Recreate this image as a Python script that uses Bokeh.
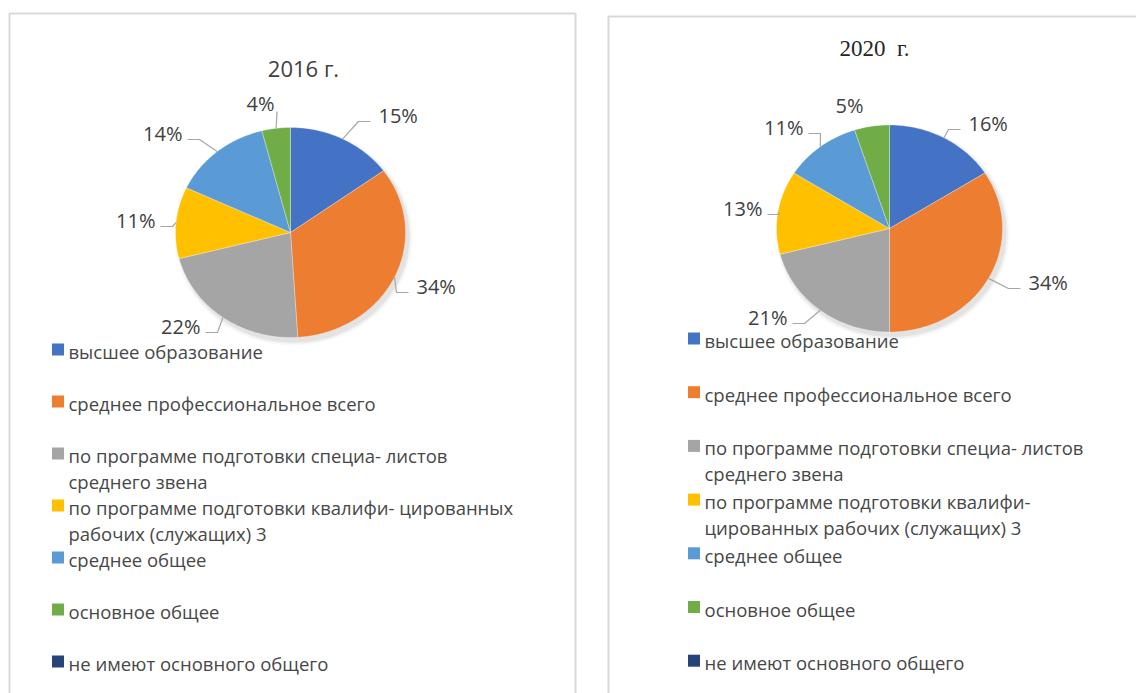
import textwrap
import numpy as np
from bokeh.plotting import figure
from bokeh.models import Range1d, ColumnDataSource
from bokeh.core.properties import value
from bokeh.embed import file_html
from bokeh.resources import INLINE

# ---------------- data ----------------
categories = [
    "высшее образование",
    "среднее профессиональное всего",
    "по программе подготовки специа- листов среднего звена",
    "по программе подготовки квалифи- цированных рабочих (служащих) 3",
    "среднее общее",
    "основное общее",
    "не имеют основного общего",
]
values_2016 = [15, 34, 22, 11, 14, 4, 0]
values_2020 = [16, 34, 21, 13, 11, 5, 0]
titles = ["2016 г.", "2020\u2002г."]
colors = ["#4472C4", "#ED7D31", "#A5A5A5", "#FFC000", "#5B9BD5", "#70AD47", "#264478"]

# ---------------- layout (screen px) ----------------
W, H = 1136, 693


def Y(sy):
    return H - sy


panels = [
    dict(vals=values_2016, title=titles[0], tx=303, ty=67, tfont="Open Sans", tsize="22px", tcol="#404040",
         cx=290, cy=232, rx=115, ry=105,
         lab_x=[378, 416, 200, 155, 182, 274], lab_y=[115, 286, 326, 220, 133, 103],
         lab_al=["left", "left", "right", "right", "right", "right"],
         lab_kind=["h", "h", "h", "h", "h", "v"],
         leg_x=51, leg_y=351, leg_step=52, wrap=44),
    dict(vals=values_2020, title=titles[1], tx=874, ty=48, tfont="Liberation Serif", tsize="23px", tcol="#262626",
         cx=889, cy=228, rx=113, ry=103.5,
         lab_x=[968, 1028, 787, 762, 803, 849], lab_y=[123, 282, 317, 208, 127, 105],
         lab_al=["left", "left", "right", "right", "right", "center"],
         lab_kind=["h", "h", "h", "h", "h", None],
         leg_x=687, leg_y=340, leg_step=53.7, wrap=38),
]

p = figure(width=W, height=H, output_backend="svg", toolbar_location=None,
           x_range=Range1d(0, W), y_range=Range1d(0, H),
           x_axis_type=None, y_axis_type=None, min_border=0)
p.grid.visible = False
p.outline_line_color = None
p.background_fill_color = "white"

# panel borders
p.multi_line(xs=[[9, 9, 575, 575], [608, 608, 1140]],
             ys=[[Y(700), Y(13), Y(13), Y(700)], [Y(700), Y(16), Y(16)]],
             line_color="#D9D9D9", line_width=2)

for pn in panels:
    vals = pn["vals"]
    cx, cyd, rx, ry = pn["cx"], Y(pn["cy"]), pn["rx"], pn["ry"]
    total = float(sum(vals))

    # soft shadow
    for k, a in [(8, 0.025), (5, 0.035), (2, 0.05)]:
        p.ellipse(x=[cx + 3], y=[cyd - 4], width=[2 * rx + k], height=[2 * ry + k],
                  fill_color="black", fill_alpha=a, line_color=None)

    xs, ys, cols, mids = [], [], [], []
    a0 = 0.0
    for v, c in zip(vals, colors):
        a1 = a0 + v / total * 2 * np.pi
        if v > 0:
            t = np.linspace(a0, a1, int(v * 4) + 3)
            xs.append([cx] + list(cx + rx * np.sin(t)))
            ys.append([cyd] + list(cyd + ry * np.cos(t)))
            cols.append(c)
            mids.append((a0 + a1) / 2)
        a0 = a1
    p.patches(xs=xs, ys=ys, fill_color=cols, line_color="white", line_width=0.6, line_alpha=0.5)

    # labels + leader lines
    texts = [f"{v}%" for v in vals if v > 0]
    lxs, lys = [], []
    for i, m in enumerate(mids):
        ex, ey = cx + rx * np.sin(m), cyd + ry * np.cos(m)
        kind = pn["lab_kind"][i]
        lx, ly = pn["lab_x"][i], Y(pn["lab_y"][i] + 6)
        if kind == "h":
            if pn["lab_al"][i] == "left":
                end = lx - 8
                elb = end - 12
            else:
                end = lx + 5
                elb = end + 12
            lxs.append([ex, elb, end])
            lys.append([ey, ly, ly])
        elif kind == "v":
            lxs.append([ex, ex + 1])
            lys.append([ey, Y(pn["lab_y"][i] + 8)])
    p.multi_line(xs=lxs, ys=lys, line_color="#A6A6A6", line_width=1.2)
    src = ColumnDataSource(dict(x=pn["lab_x"], y=[Y(v) for v in pn["lab_y"]], t=texts, al=pn["lab_al"]))
    p.text(x="x", y="y", text="t", source=src, text_align="al", text_baseline="middle",
           text_font=value("Open Sans"), text_font_size="20px", text_color="#404040")

    # title
    p.text(x=[pn["tx"]], y=[Y(pn["ty"])], text=[pn["title"]], text_align="center", text_baseline="middle",
           text_font=value(pn["tfont"]), text_font_size=pn["tsize"], text_color=pn["tcol"])

    # legend
    sq_x, sq_y, tx, ty, tt = [], [], [], [], []
    for i, cat in enumerate(categories):
        y0 = pn["leg_y"] + pn["leg_step"] * i
        sq_x.append(pn["leg_x"] + 6.5)
        sq_y.append(Y(y0 - 2))
        for j, line in enumerate(textwrap.wrap(cat, pn["wrap"], break_on_hyphens=False)):
            tx.append(pn["leg_x"] + 17)
            ty.append(Y(y0 + 26 * j))
            tt.append(line)
    p.rect(x=sq_x, y=sq_y, width=12, height=12, fill_color=colors, line_color=None)
    p.text(x=tx, y=ty, text=tt, text_align="left", text_baseline="middle",
           text_font=value("Open Sans"), text_font_size="18.5px", text_color="#474747")

open("out.html", "w").write(file_html(p, INLINE))
